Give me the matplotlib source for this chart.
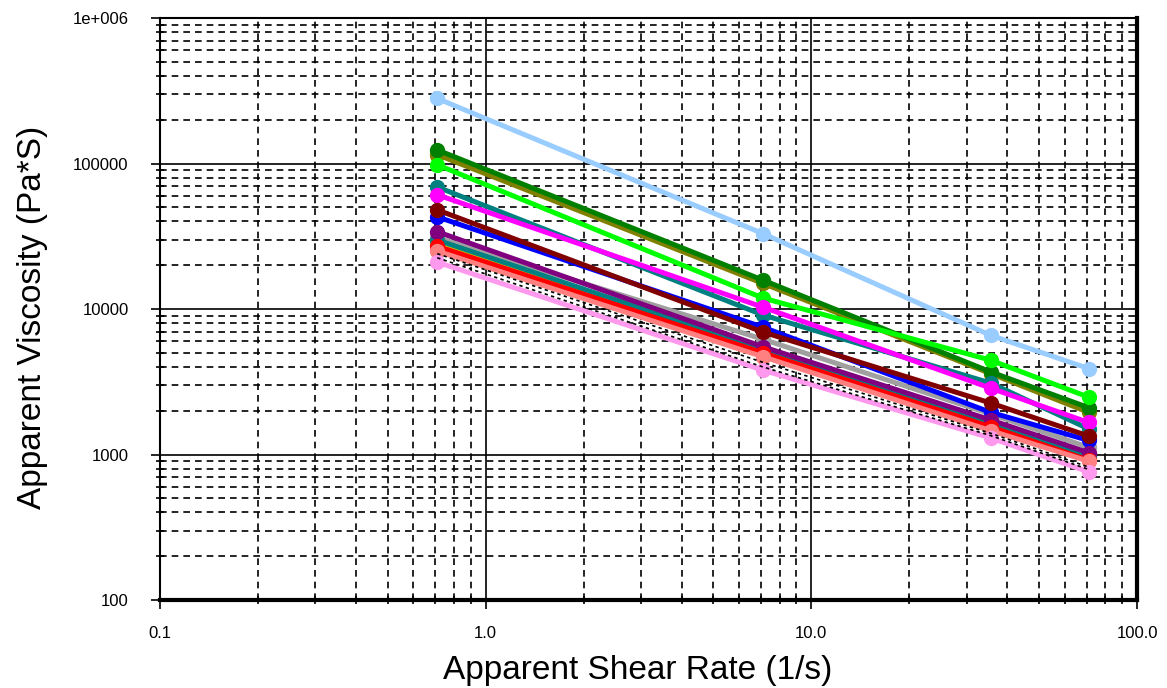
import matplotlib.pyplot as plt
from matplotlib.ticker import FixedLocator, LogLocator, NullFormatter

plt.rcParams['font.family'] = ['Liberation Sans', 'DejaVu Sans']

# shear rate points (1/s)
shear = [0.71, 7.1, 35.5, 71]

# apparent viscosity (Pa*S) per sample
light_blue = [280000, 33000, 6600, 3900]
dark_green = [124000, 15800, 3700, 2100]
olive = [115000, 15000, 3600, 1950]
lime = [98000, 11900, 4450, 2480]
teal = [69000, 9100, 3100, 1500]
magenta = [61000, 10300, 2860, 1660]
maroon = [48000, 6950, 2260, 1340]
blue = [43000, 7500, 1950, 1250]
gray = [31000, 6200, 1900, 1120]
purple = [34000, 5500, 1730, 1030]
teal2 = [29800, 5300, 1650, 980]
gold = [29000, 5100, 1600, 950]
red = [27000, 5000, 1550, 915]
salmon = [25000, 4700, 1460, 900]
pink = [21000, 3800, 1300, 760]
dot1 = [24000, 4300, 1400, 820]
dot2 = [22500, 4000, 1350, 790]

series = [
    (light_blue, '#99CCFF'),
    (olive, '#808000'),
    (dark_green, '#008000'),
    (lime, '#00FF00'),
    (teal, '#008080'),
    (magenta, '#FF00FF'),
    (gray, '#A0A0A0'),
    (blue, '#0000FF'),
    (maroon, '#800000'),
    (gold, '#CCCC00'),
    (teal2, '#008080'),
    (purple, '#800080'),
    (red, '#FF0000'),
    (salmon, '#FF8080'),
    (pink, '#FF99EE'),
]

fig = plt.figure(figsize=(11.67, 6.88), dpi=100)
ax = fig.add_axes([0.1371, 0.1279, 0.8372, 0.8459])

for vals, c in series:
    ax.plot(shear, vals, color=c, lw=3.6, marker='o', ms=10, mec=c, zorder=3)
for vals in (dot1, dot2):
    ax.plot(shear, vals, color='black', lw=1.2, ls=(0, (2, 2)), zorder=4)

ax.set_xscale('log')
ax.set_yscale('log')
ax.set_xlim(0.1, 100)
ax.set_ylim(100, 1e6)

ax.xaxis.set_major_locator(FixedLocator([0.1, 1, 10, 100]))
ax.set_xticklabels(['0.1', '1.0', '10.0', '100.0'])
ax.yaxis.set_major_locator(FixedLocator([100, 1000, 10000, 100000, 1e6]))
ax.set_yticklabels(['100', '1000', '10000', '100000', '1e+006'])
ax.xaxis.set_minor_locator(LogLocator(base=10, subs=range(2, 10)))
ax.yaxis.set_minor_locator(LogLocator(base=10, subs=range(2, 10)))
ax.xaxis.set_minor_formatter(NullFormatter())
ax.yaxis.set_minor_formatter(NullFormatter())

ax.grid(True, which='major', color='black', lw=1.2, ls='-')
ax.grid(True, which='minor', color='black', lw=1.2, ls=(0, (4, 3)))
ax.set_axisbelow(True)

ax.tick_params(which='major', direction='out', length=6.5, width=1.2, labelsize=12)
ax.tick_params(axis='y', which='major', pad=16)
ax.tick_params(axis='x', which='major', pad=12)
ax.tick_params(which='minor', direction='inout', length=6, width=1.2)
for s in ax.spines.values():
    s.set_linewidth(1.5)
    s.set_color('black')
ax.spines['right'].set_linewidth(3)
ax.spines['bottom'].set_linewidth(3)

ax.set_xlabel('Apparent Shear Rate (1/s)', fontsize=24, va='center')
ax.set_ylabel('Apparent Viscosity (Pa*S)', fontsize=24, va='center')
ax.xaxis.set_label_coords(0.489, -0.1203)
ax.yaxis.set_label_coords(-0.130, 0.486)

fig.savefig('out.png', dpi=100)
